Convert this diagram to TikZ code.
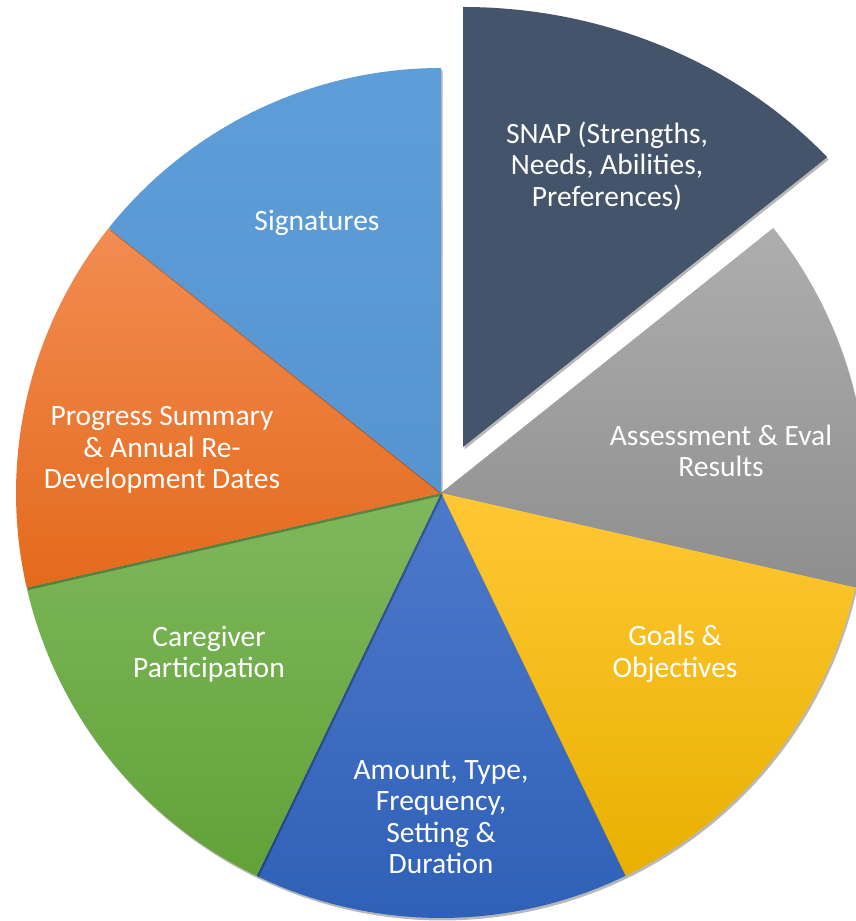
\documentclass[tikz,border=0pt]{standalone}
\usepackage{fontspec}
\setmainfont{Carlito}
\usetikzlibrary{shadows}
\definecolor{snapc}{HTML}{44546A}
\definecolor{grayT}{HTML}{AEAEAE}
\definecolor{grayB}{HTML}{8E8E8E}
\definecolor{goldT}{HTML}{FFC834}
\definecolor{goldB}{HTML}{E8B000}
\definecolor{blueT}{HTML}{4D79CB}
\definecolor{blueB}{HTML}{2E60B7}
\definecolor{greenT}{HTML}{7FB85C}
\definecolor{greenB}{HTML}{62A238}
\definecolor{orT}{HTML}{F28C52}
\definecolor{orB}{HTML}{E46A1C}
\definecolor{sigT}{HTML}{5E9ED8}
\definecolor{sigB}{HTML}{5594D0}
\tikzset{
  slicesh/.style={drop shadow={shadow xshift=1.5pt, shadow yshift=-2.5pt, opacity=0.28, fill=black}},
  lbl/.style={text=white, align=center, font=\fontsize{29.5}{31.5}\selectfont, inner sep=0pt}
}
\newcommand\mkslice[4]{%
  \path[slicesh, top color=#3, bottom color=#4]
    (441,428) -- ++(#1:425) arc[start angle=#1, end angle=#2, radius=425] -- cycle;}
\begin{document}
\begin{tikzpicture}[x=1pt,y=1pt]
\useasboundingbox (0,0) rectangle (856,921);
\clip (0,0) rectangle (856,921);
\fill[white] (0,0) rectangle (856,921);
\coordinate (c) at (441,428);
% main slices (clockwise from 38.57 deg)
\mkslice{38.571}{-12.857}{grayT}{grayB}
\mkslice{-12.857}{-64.286}{goldT}{goldB}
\mkslice{-64.286}{-115.714}{blueT}{blueB}
\mkslice{-115.714}{-167.143}{greenT}{greenB}
\mkslice{-167.143}{-218.571}{orT}{orB}
\mkslice{141.429}{90}{sigT}{sigB}
% exploded SNAP slice
\coordinate (sc) at (463,474);
\path[slicesh, fill=snapc]
  (sc) -- ++(0,440) arc[start angle=90, end angle=41.2, x radius=484, y radius=440] -- cycle;
% labels
\node[lbl] (snap) at (607,755) {SNAP (Strengths,\\Needs, Abilities,\\Preferences)};
\node[lbl] (assess) at (721,470) {Assessment \& Eval\\Results};
\node[lbl] (goals) at (675,267) {Goals \&\\Objectives};
\node[lbl] (amount) at (441,104) {Amount, Type,\\Frequency,\\Setting \&\\Duration};
\node[lbl] (care) at (209,267) {Caregiver\\Participation};
\node[lbl] (prog) at (162,471) {Progress Summary\\\& Annual Re-\\Development Dates};
\node[lbl] (sig) at (317,698) {Signatures};
\end{tikzpicture}
\end{document}
